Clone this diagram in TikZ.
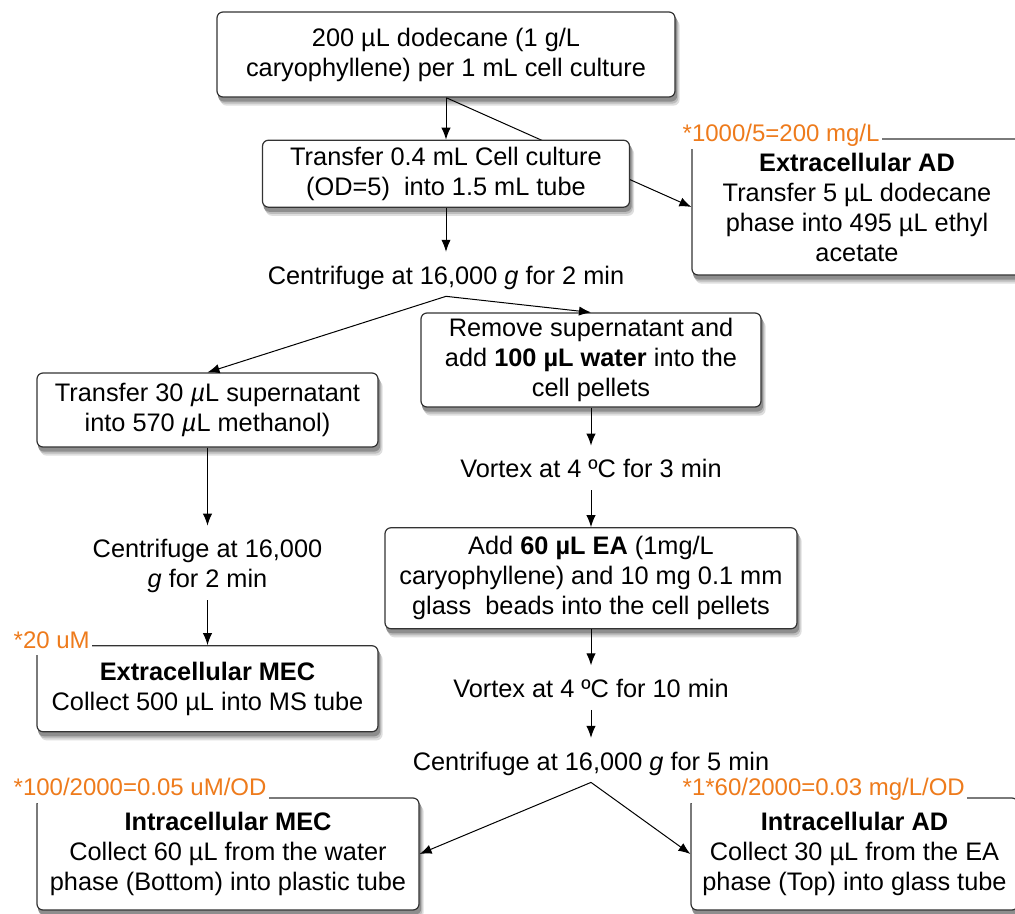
\documentclass[tikz,border=0pt]{standalone}
\usepackage{fontspec}
\setmainfont{Liberation Sans}
\usetikzlibrary{arrows.meta,positioning,calc,backgrounds}
\definecolor{FrameGray}{HTML}{333333}
\definecolor{CalcOrange}{HTML}{EE7B1C}
\definecolor{ShadowGray}{HTML}{7A7A7A}

\begin{document}
\begin{tikzpicture}[x=0.75pt,y=-0.75pt,node distance=28pt,font=\fontsize{19}{22.5}\selectfont,
 box/.style={draw=FrameGray,line width=0.9pt,rounded corners=4.5pt,fill=white,align=center,inner sep=0pt},
 note/.style={align=center,inner xsep=2pt,inner ysep=0pt,text height=24pt,text depth=9pt},
 calcnote/.style={anchor=base west,fill=white,text=CalcOrange,inner sep=1.5pt,text depth=4pt,
  font=\fontsize{18}{20}\selectfont},
 arrow/.style={-{Latex[length=9pt,width=7pt]},draw=black,line width=0.75pt}]
\useasboundingbox (0,0) rectangle (1015,914);

% sample preparation
\node[box,minimum width=343.5pt,minimum height=63.75pt] (dodecane) at (446,54.5)
 {200 µL dodecane (1 g/L\\caryophyllene) per 1 mL cell culture};
\node[box,below=31.5pt of dodecane,minimum width=275.25pt,minimum height=50.25pt] (transfer)
 {Transfer 0.4 mL Cell culture\\(OD=5)~ into 1.5 mL tube};
\node[note,below=33pt of transfer] (spin1) {Centrifuge at 16,000 \textit{g} for 2 min};
\node[box,minimum width=247.5pt,minimum height=102pt] (adext) at (857,207)
 {\textbf{Extracellular AD}\\Transfer 5 µL dodecane\\phase into 495 µL ethyl\\acetate};

% supernatant branch
\node[box,minimum width=255.75pt,minimum height=55.5pt] (supern) at (207.5,410)
 {Transfer 30 \textit{µ}L supernatant\\into 570 \textit{µ}L methanol)};
\node[note,below=58.5pt of supern,text height=46.5pt] (spin2) {Centrifuge at 16,000\\\textit{g} for 2 min};
\node[box,below=33.75pt of spin2,minimum width=255.75pt,minimum height=64.5pt] (extmec)
 {\textbf{Extracellular MEC}\\Collect 500 µL into MS tube};

% pellet branch
\node[box,minimum width=255pt,minimum height=70.5pt] (remove) at (591,360)
 {Remove supernatant and\\add \textbf{100 µL water} into the\\cell pellets};
\node[note,below=28.5pt of remove] (vortex1) {Vortex at 4 ºC for 3 min};
\node[box,below=27.75pt of vortex1,minimum width=309pt,minimum height=75.75pt] (addea)
 {Add \textbf{60 µL EA} (1mg/L\\caryophyllene) and 10 mg 0.1 mm\\glass~ beads into the cell pellets};
\node[note,below=27pt of addea] (vortex2) {Vortex at 4 ºC for 10 min};
\node[note,below=21pt of vortex2] (spin3) {Centrifuge at 16,000 \textit{g} for 5 min};
\node[box,minimum width=286.5pt,minimum height=84pt] (intmec) at (228,854)
 {\textbf{Intracellular MEC}\\Collect 60 µL from the water\\phase (Bottom) into plastic tube};
\node[box,minimum width=245.25pt,minimum height=84pt] (intad) at (854.5,854)
 {\textbf{Intracellular AD}\\Collect 30 µL from the EA\\phase (Top) into glass tube};

% concentration notes
\node[calcnote] (calcadext) at ($(adext.north west)+(-11,3)$) {*1000/5=200 mg/L};
\node[calcnote] (calcextmec) at ($(extmec.north west)+(-25,3)$) {*20 uM};
\node[calcnote] (calcintmec) at ($(intmec.north west)+(-25,-2)$) {*100/2000=0.05 uM/OD};
\node[calcnote] (calcintad) at ($(intad.north west)+(-10,-2)$) {*1*60/2000=0.03 mg/L/OD};

% connectors
\draw[arrow] (dodecane.south) -- (dodecane.south |- transfer.north);
\foreach \a/\b in {transfer/spin1,supern/spin2,spin2/extmec,remove/vortex1,vortex1/addea,addea/vortex2,vortex2/spin3}
 \draw[arrow] (\a)--(\b);
\draw[arrow] (spin1.south) -- (supern.north);
\draw[arrow] (spin1.south) -- (remove.north);
\draw[arrow] (spin3.south) -- (intmec.east);
\draw[arrow] (spin3.south) -- (intad.west);

% soft shadows under the boxes
\begin{scope}[on background layer]
\foreach \n in {dodecane,transfer,adext,supern,extmec,remove,addea,intmec,intad}
 \foreach \dx/\dy/\tone in {3/-6/25,2/-4.5/50,1.2/-3/85}
  \fill[ShadowGray!\tone!white,rounded corners=4.5pt]
   ($(\n.north west)+(\dx pt,\dy pt)$) rectangle ($(\n.south east)+(\dx pt,\dy pt)$);
\draw[arrow] (dodecane.south) -- (adext.west);
\end{scope}
\end{tikzpicture}
\end{document}
